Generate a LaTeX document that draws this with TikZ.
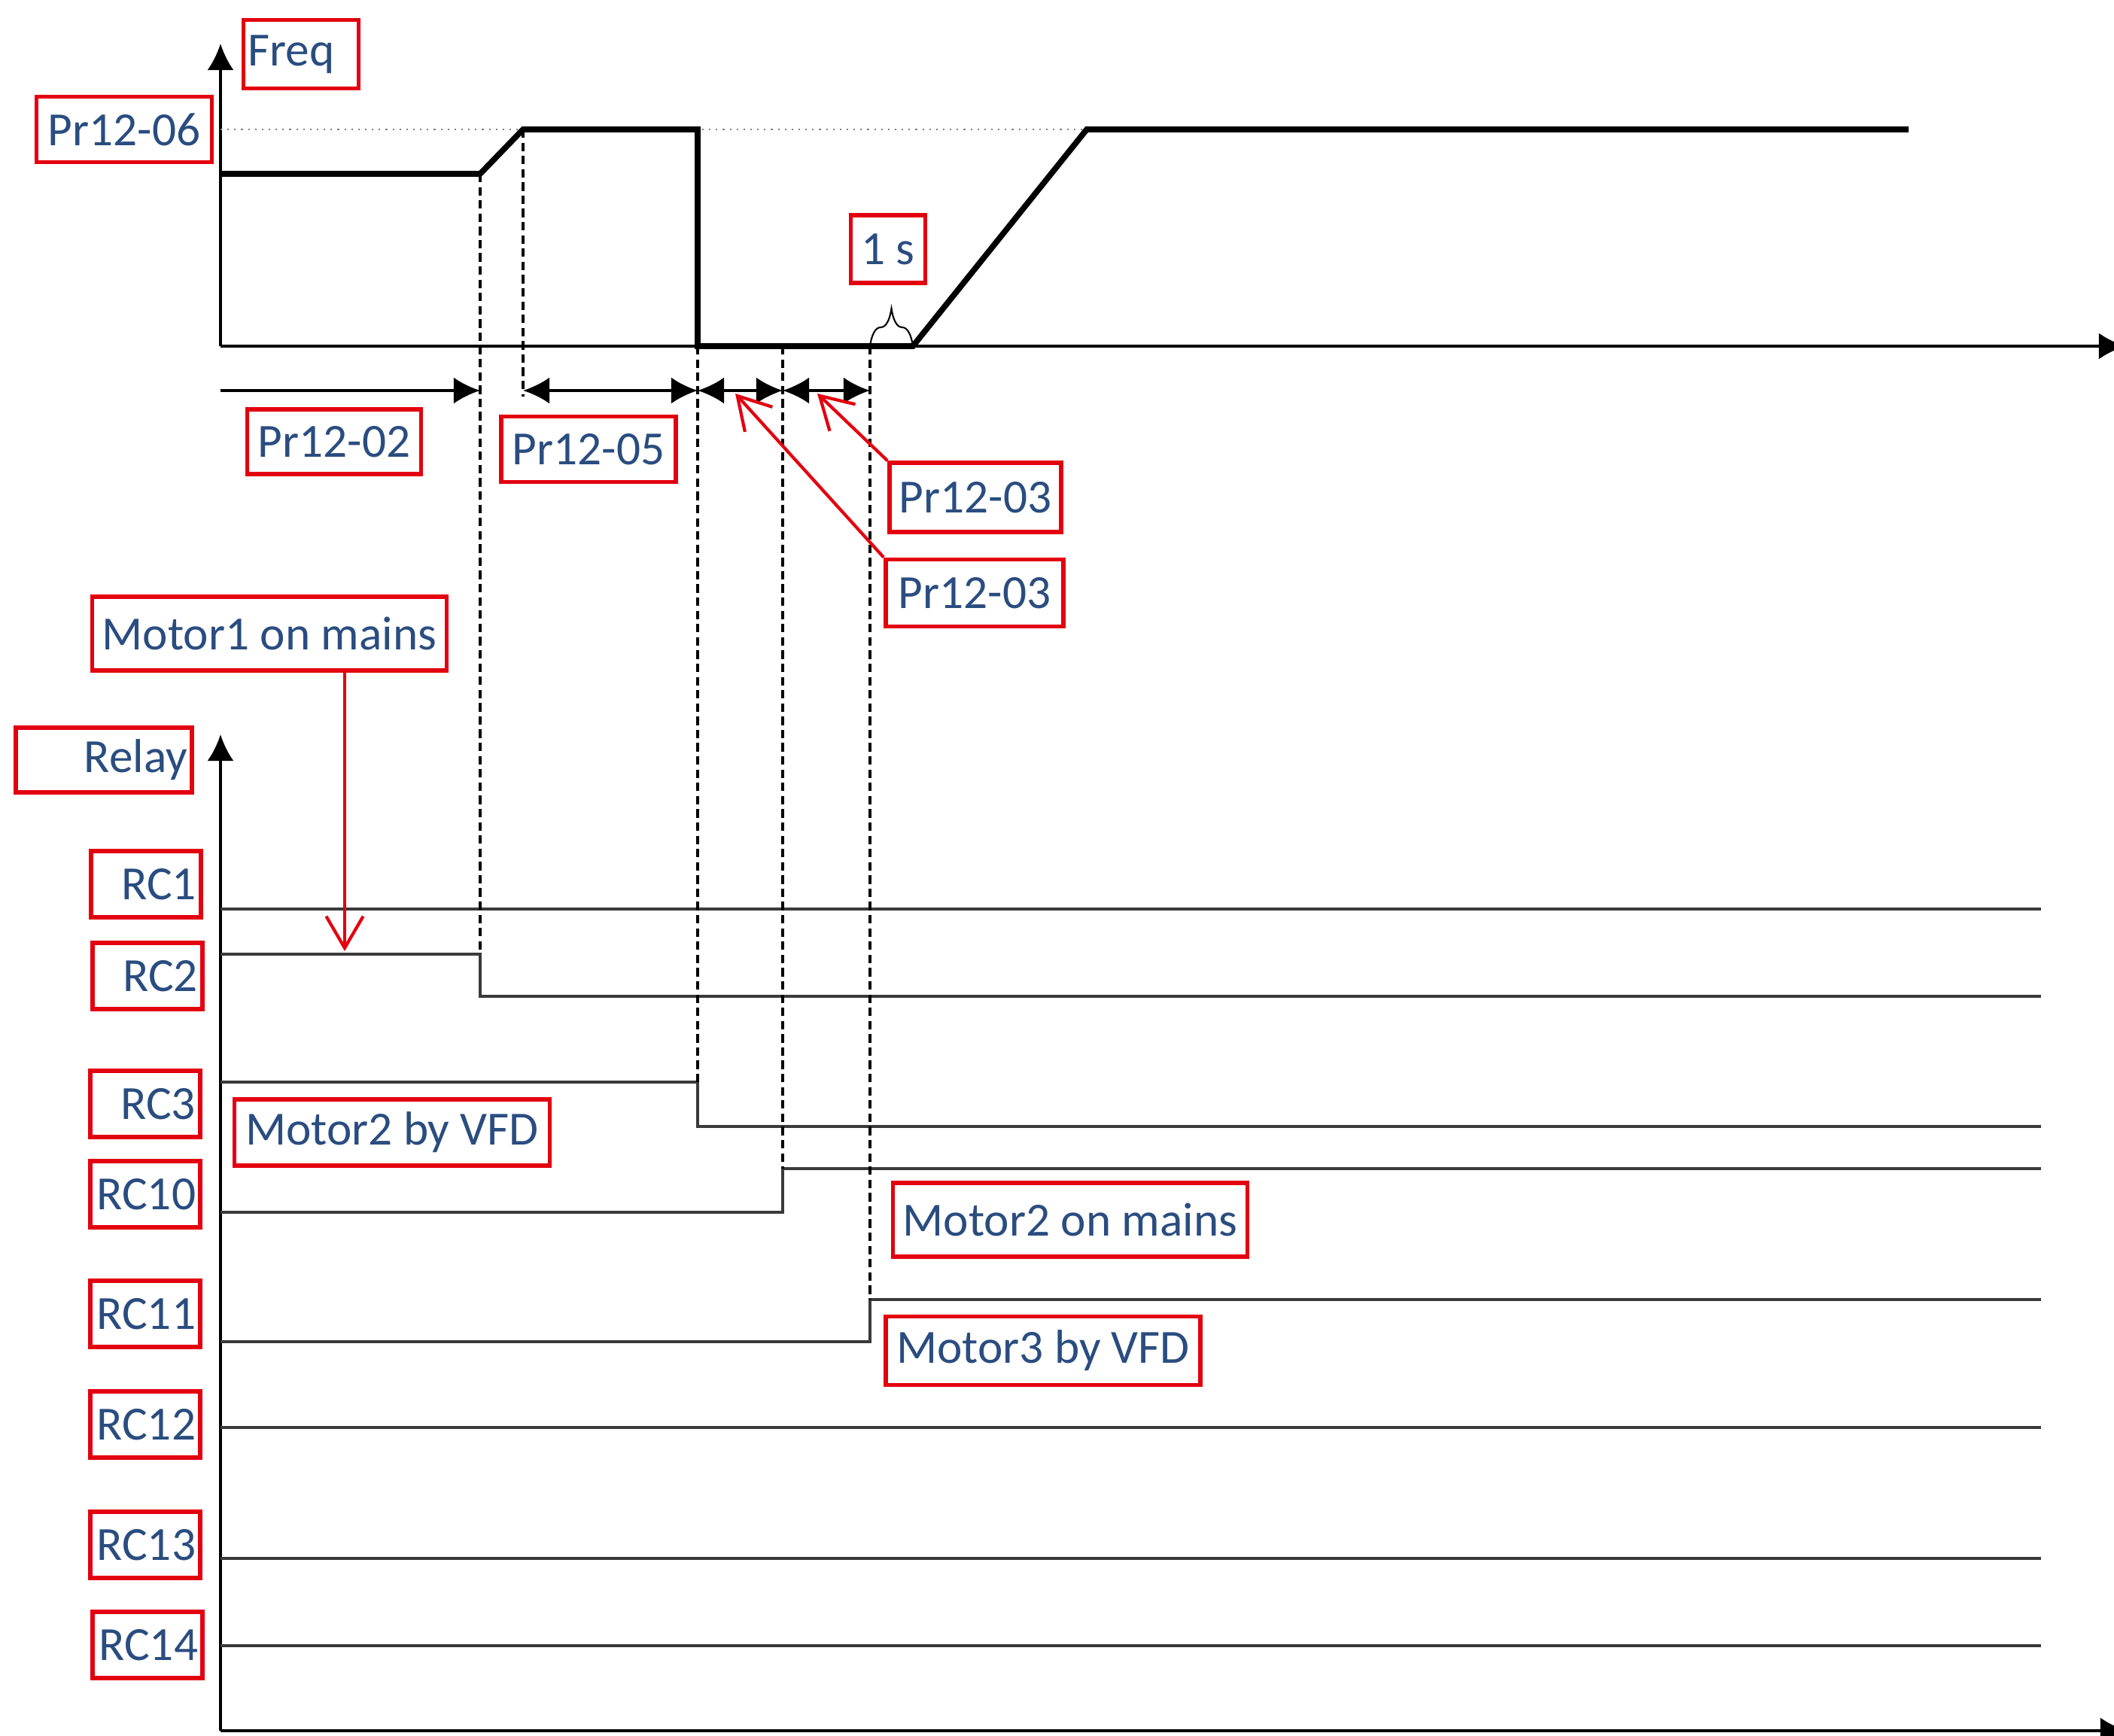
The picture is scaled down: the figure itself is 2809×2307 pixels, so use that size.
\documentclass[tikz,border=0pt]{standalone}
\usepackage{fontspec}
\setmainfont{Carlito}
\usetikzlibrary{arrows.meta,decorations.pathreplacing}
\definecolor{labelblue}{HTML}{2A4D80}
\definecolor{boxred}{HTML}{E3000F}
\definecolor{relaygray}{HTML}{3A3A3A}

\begin{document}
\begin{tikzpicture}[x=0.01cm, y=-0.01cm,
  every node/.style={font=\fontsize{18}{20}\selectfont, text=labelblue},
  tag/.style={draw=boxred, line width=1.6pt, inner sep=0pt},
  rclabel/.style={tag, text width=1.34cm, inner xsep=0.06cm, align=right, minimum height=0.88cm},
  axis/.style={line width=1.1pt, -{Latex[length=10pt,width=10pt]}},
  freqline/.style={line width=2.2pt},
  relayline/.style={line width=0.95pt, relaygray},
  guide/.style={line width=1.3pt, dash pattern=on 3.2pt off 1.8pt},
  span/.style={line width=1.1pt, {Latex[length=10pt,width=10pt]}-{Latex[length=10pt,width=10pt]}},
  pointer/.style={boxred, line width=1.2pt, -{Straight Barb[length=12pt,width=14pt]}}]

  \useasboundingbox (0,0) rectangle (2809,2307);

  % frequency axes
  \coordinate (fo) at (293,460);
  \coordinate (ftop) at (293,58);
  \coordinate (fend) at (2824,460);
  \draw[axis] (fo) -- (ftop);
  \draw[axis] (fo) -- (fend);
  \draw[gray, line width=0.6pt, dotted] (293,172) -- (1444,172);

  \coordinate (ramp1) at (638,231);
  \coordinate (top1) at (695,172);
  \coordinate (drop) at (927,172);
  \coordinate (zero1) at (927,460);
  \coordinate (sw1) at (1040,460);
  \coordinate (sw2) at (1156,460);
  \coordinate (ramp2) at (1213,460);
  \coordinate (top2) at (1444,172);
  \coordinate (fin) at (2536,172);
  \draw[freqline] (293,231) -- (ramp1) -- (top1) -- (drop) -- (zero1) -- (ramp2) -- (top2) -- (fin);
  \draw[line width=0.6pt, decorate, decoration={brace, amplitude=0.5cm}] (sw2) -- (ramp2);

  % time spans
  \draw[line width=1.1pt, -{Latex[length=10pt,width=10pt]}] (293,519) -- (638,519);
  \draw[span] (695,519) -- (927,519);
  \draw[span] (927,519) -- (1040,519);
  \draw[span] (1040,519) -- (1156,519);

  % relay axes
  \coordinate (ro) at (293,2300);
  \coordinate (rtop) at (293,976);
  \coordinate (rend) at (2826,2300);
  \draw[axis] (ro) -- (rtop);
  \draw[axis] (ro) -- (rend);

  \draw[relayline] (293,1208) -- (2712,1208);
  \draw[relayline] (293,1268) -- (638,1268) -- (638,1324) -- (2712,1324);
  \draw[relayline] (293,1438) -- (927,1438) -- (927,1497) -- (2712,1497);
  \draw[relayline] (293,1611) -- (1040,1611) -- (1040,1553) -- (2712,1553);
  \draw[relayline] (293,1783) -- (1156,1783) -- (1156,1727) -- (2712,1727);
  \foreach \y in {1897,2071,2187}
    \draw[relayline] (293,\y) -- (2712,\y);

  % switching instants
  \draw[guide] (ramp1) -- (638,1268);
  \draw[guide] (top1) -- (695,527);
  \draw[guide] (zero1) -- (927,1438);
  \draw[guide] (sw1) -- (1040,1553);
  \draw[guide] (sw2) -- (1156,1727);

  % labels
  \node[tag, text width=1.41cm, inner xsep=0.06cm, align=left, minimum height=0.91cm] (freq) at (400,72) {Freq};
  \node[tag, minimum width=2.33cm, minimum height=0.87cm] (p06) at (165,172) {Pr12-06};
  \node[tag, minimum width=2.31cm, minimum height=0.86cm] (p02) at (444,587) {Pr12-02};
  \node[tag, minimum width=2.32cm, minimum height=0.87cm] (p05) at (782,597) {Pr12-05};
  \node[tag, minimum width=0.99cm, minimum height=0.90cm] (onesec) at (1180,331) {1 s};
  \node[tag, minimum width=2.28cm, minimum height=0.92cm] (p03a) at (1296,661) {Pr12-03};
  \node[tag, minimum width=2.36cm, minimum height=0.89cm] (p03b) at (1295,788) {Pr12-03};
  \node[tag, minimum width=4.71cm, minimum height=0.98cm] (m1) at (358,842) {Motor1 on mains};
  \node[tag, text width=2.22cm, inner xsep=0.06cm, align=right, minimum height=0.86cm] (relay) at (138,1010) {Relay};

  \node[rclabel] (rc1) at (194,1175) {RC1};
  \node[rclabel] (rc2) at (196,1297) {RC2};
  \node[rclabel] (rc3) at (193,1467) {RC3};
  \node[rclabel] (rc10) at (193,1587) {RC10};
  \node[rclabel] (rc11) at (193,1746) {RC11};
  \node[rclabel] (rc12) at (193,1893) {RC12};
  \node[rclabel] (rc13) at (193,2053) {RC13};
  \node[rclabel] (rc14) at (196,2186) {RC14};

  \node[tag, minimum width=4.19cm, minimum height=0.88cm] (m2vfd) at (521,1505) {Motor2 by VFD};
  \node[tag, minimum width=4.71cm, minimum height=0.98cm] (m2mains) at (1422,1621) {Motor2 on mains};
  \node[tag, minimum width=4.18cm, minimum height=0.91cm] (m3vfd) at (1386,1795) {Motor3 by VFD};

  % pointers
  \coordinate (m1tip) at (458,1264);
  \coordinate (p03atip) at (1086,523);
  \coordinate (p03btip) at (977,523);
  \draw[pointer] (m1tip |- m1.south) -- (m1tip);
  \draw[pointer] (p03a.north west) -- (p03atip);
  \draw[pointer] (p03b.north west) -- (p03btip);
\end{tikzpicture}
\end{document}
